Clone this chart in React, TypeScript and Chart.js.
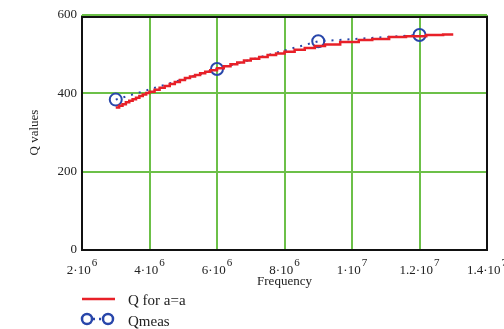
import React, { useEffect, useRef } from "react";
import { Chart, registerables } from "chart.js";

Chart.register(...registerables);

// Model curve (stepped) Q for a=a — each value holds from its frequency to the next one
const modelFreq = [
  3.0e6, 3.1e6, 3.2e6, 3.3e6, 3.4e6, 3.5e6, 3.6e6, 3.7e6, 3.8e6, 3.9e6,
  4.0e6, 4.15e6, 4.3e6, 4.45e6, 4.6e6, 4.75e6, 4.9e6, 5.05e6, 5.2e6, 5.35e6,
  5.5e6, 5.65e6, 5.8e6, 6.0e6, 6.2e6, 6.4e6, 6.6e6, 6.8e6, 7.0e6, 7.25e6,
  7.5e6, 7.75e6, 8.0e6, 8.3e6, 8.6e6, 8.9e6, 9.2e6, 9.65e6, 10.2e6, 10.6e6,
  11.1e6, 11.6e6, 12.2e6, 12.7e6, 13.0e6,
];
const modelQ = [
  364, 368, 372, 377, 381, 385, 389, 393, 397, 401,
  404, 409, 414, 419, 424, 429, 434, 439, 443, 447,
  451, 455, 459, 464, 469, 474, 479, 484, 488, 493,
  498, 502, 506, 511, 516, 521, 525, 531, 536, 539,
  544, 546, 549, 550, 550,
];

// Measured
const measFreq = [3.0e6, 6.0e6, 9.0e6, 12.0e6];
const measQ = [384, 462, 533, 549];

// Axis ticks
const xTickValues = [2e6, 4e6, 6e6, 8e6, 1e7, 1.2e7, 1.4e7];
const xTickBase = ["2·10", "4·10", "6·10", "8·10", "1·10", "1.2·10", "1.4·10"];
const xTickExp = ["6", "6", "6", "6", "7", "7", "7"];
const yTickValues = [0, 200, 400, 600];

const seriesLabels = ["Q for a=a", "Qmeas"];
const RED = "rgb(232,32,40)";
const BLUE = "rgb(40,70,170)";
const GREEN = "rgb(108,192,72)";
const SERIF = "'Liberation Serif', 'DejaVu Serif', serif";

const overlayPlugin = {
  id: "overlay",
  beforeDatasetsDraw(chart: any) {
    const { ctx, chartArea } = chart;
    ctx.save();
    ctx.strokeStyle = "#111";
    ctx.lineWidth = 2;
    ctx.strokeRect(chartArea.left, chartArea.top + 2, chartArea.right - chartArea.left, chartArea.bottom - chartArea.top - 2);
    ctx.restore();
  },
  afterDraw(chart: any) {
    const { ctx, chartArea } = chart;
    const xs = chart.scales.x;
    ctx.save();
    ctx.fillStyle = "#222";
    ctx.textBaseline = "alphabetic";
    // x tick labels with superscripts
    xTickValues.forEach((v, i) => {
      const px = xs.getPixelForValue(v);
      ctx.font = `13px ${SERIF}`;
      const bw = ctx.measureText(xTickBase[i]).width;
      ctx.font = `11px ${SERIF}`;
      const ew = ctx.measureText(xTickExp[i]).width;
      const start = px - (bw + ew + 1) / 2;
      ctx.font = `13px ${SERIF}`;
      ctx.textAlign = "left";
      ctx.fillText(xTickBase[i], start, chartArea.bottom + 24);
      ctx.font = `11px ${SERIF}`;
      ctx.fillText(xTickExp[i], start + bw + 1, chartArea.bottom + 16);
    });
    // x title
    ctx.font = `13px ${SERIF}`;
    ctx.textAlign = "center";
    ctx.fillText("Frequency", (chartArea.left + chartArea.right) / 2, chartArea.bottom + 35);
    // y title
    ctx.save();
    ctx.translate(38, (chartArea.top + chartArea.bottom) / 2);
    ctx.rotate(-Math.PI / 2);
    ctx.textAlign = "center";
    ctx.fillText("Q values", 0, 0);
    ctx.restore();

    // legend
    const lx = chartArea.left;
    const y1 = chartArea.bottom + 49;
    const y2 = chartArea.bottom + 69;
    ctx.strokeStyle = RED;
    ctx.lineWidth = 2.5;
    ctx.beginPath();
    ctx.moveTo(lx, y1);
    ctx.lineTo(lx + 33, y1);
    ctx.stroke();
    ctx.strokeStyle = BLUE;
    ctx.lineWidth = 2.5;
    ctx.setLineDash([2, 4]);
    ctx.beginPath();
    ctx.moveTo(lx + 5, y2);
    ctx.lineTo(lx + 26, y2);
    ctx.stroke();
    ctx.setLineDash([]);
    [lx + 5, lx + 26].forEach((cx) => {
      ctx.beginPath();
      ctx.arc(cx, y2, 5, 0, Math.PI * 2);
      ctx.fillStyle = "#fff";
      ctx.fill();
      ctx.stroke();
    });
    ctx.fillStyle = "#222";
    ctx.font = `15px ${SERIF}`;
    ctx.textAlign = "left";
    ctx.textBaseline = "middle";
    ctx.fillText(seriesLabels[0], lx + 46, y1 + 2);
    ctx.fillText(seriesLabels[1], lx + 46, y2 + 3);
    ctx.restore();
  },
};

export default function App() {
  const ref = useRef<HTMLCanvasElement | null>(null);
  useEffect(() => {
    if (!ref.current) return;
    const chart = new Chart(ref.current, {
      type: "line",
      data: {
        datasets: [
          {
            label: seriesLabels[0],
            data: modelFreq.map((f, i) => ({ x: f, y: modelQ[i] })),
            borderColor: RED,
            borderWidth: 2.5,
            stepped: true,
            pointRadius: 0,
            fill: false,
          },
          {
            label: seriesLabels[1],
            data: measFreq.map((f, i) => ({ x: f, y: measQ[i] })),
            borderColor: BLUE,
            borderWidth: 2,
            borderDash: [2, 6],
            pointRadius: 6,
            pointBorderWidth: 2,
            pointBackgroundColor: "rgba(0,0,0,0)",
            pointBorderColor: BLUE,
            fill: false,
          },
        ],
      },
      options: {
        animation: false,
        responsive: true,
        maintainAspectRatio: false,
        layout: { padding: { left: 0, right: 17, top: 15, bottom: 0 } },
        plugins: { legend: { display: false }, tooltip: { enabled: false } },
        scales: {
          x: {
            type: "linear",
            min: 2e6,
            max: 1.4e7,
            afterBuildTicks: (s: any) => {
              s.ticks = xTickValues.map((v) => ({ value: v }));
            },
            ticks: { display: false },
            grid: { color: GREEN, lineWidth: 2, drawTicks: false },
            border: { display: false },
            afterFit: (s: any) => {
              s.height = 79;
            },
          },
          y: {
            min: 0,
            max: 600,
            afterBuildTicks: (s: any) => {
              s.ticks = yTickValues.map((v) => ({ value: v }));
            },
            ticks: {
              color: "#222",
              padding: 5,
              font: { family: SERIF, size: 13 },
            },
            grid: { color: GREEN, lineWidth: 2, drawTicks: false },
            border: { display: false },
            afterFit: (s: any) => {
              s.width = 82;
            },
          },
        },
      },
      plugins: [overlayPlugin],
    });
    return () => chart.destroy();
  }, []);
  return (
    <div style={{ position: "fixed", left: 0, top: 0, width: 504, height: 329, background: "#fff" }}>
      <canvas ref={ref} />
    </div>
  );
}
